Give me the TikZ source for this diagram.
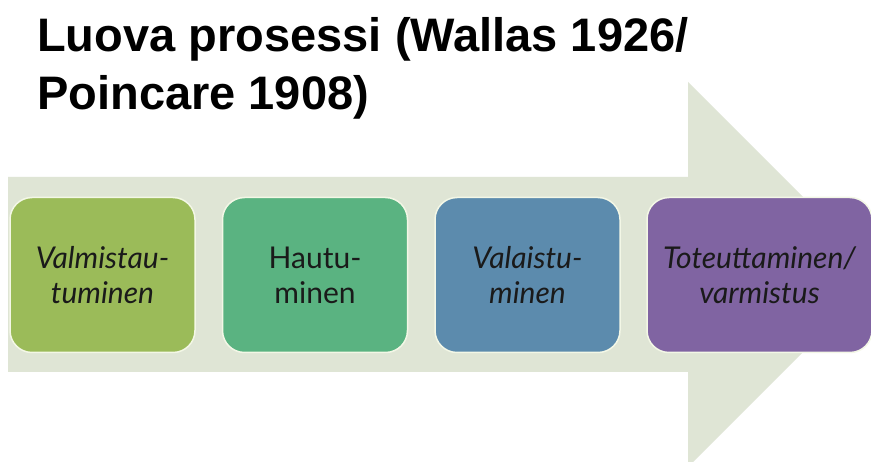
\documentclass[tikz,border=0pt]{standalone}
\usepackage{fontspec}
\setmainfont{Liberation Sans}
\newfontfamily\titlefont{Liberation Sans}
\newfontfamily\bodyfont{Lato}
\definecolor{arrowfill}{HTML}{DFE5D5}
\definecolor{boxa}{HTML}{9BBB59}
\definecolor{boxb}{HTML}{5AB381}
\definecolor{boxc}{HTML}{5C8BAD}
\definecolor{boxd}{HTML}{8064A2}
\definecolor{boxedge}{HTML}{F3F7E6}
\definecolor{textdark}{HTML}{1A1A1A}
\begin{document}
\begin{tikzpicture}[x=1pt,y=-1pt,
  titleline/.style={anchor=base west,inner sep=0pt,font=\titlefont\bfseries\fontsize{47}{58}\selectfont,text=black},
  stagebox/.style={rounded corners=22pt,draw=boxedge,line width=1.5pt,minimum width=185pt,minimum height=155pt,inner sep=0pt,align=center,text=textdark,font=\bodyfont\fontsize{30}{35}\selectfont},
  stageit/.style={stagebox,font=\bodyfont\itshape\fontsize{30}{35}\selectfont}]
\useasboundingbox (0,0) rectangle (871,462);
\clip (0,0) rectangle (871,462);
\fill[white] (0,0) rectangle (871,462);
% big arrow
\fill[arrowfill] (8,177) -- (688,177) -- (688,82) -- (880.5,274.5) -- (688,467) -- (688,372) -- (8,372) -- cycle;
% title
\node[titleline] (title1) at (37,52) {Luova prosessi (Wallas 1926/};
\node[titleline] (title2) at (37,110) {Poincare 1908)};
% stages
\node[stageit,fill=boxa] (s1) at (102.5,275) {Valmistau-\\tuminen};
\node[stagebox,fill=boxb] (s2) at (315,275) {Hautu-\\minen};
\node[stageit,fill=boxc] (s3) at (527.5,275) {Valaistu-\\minen};
\node[stageit,fill=boxd,minimum width=225pt] (s4) at (759.5,275) {Toteuttaminen/\\varmistus};
\end{tikzpicture}
\end{document}
